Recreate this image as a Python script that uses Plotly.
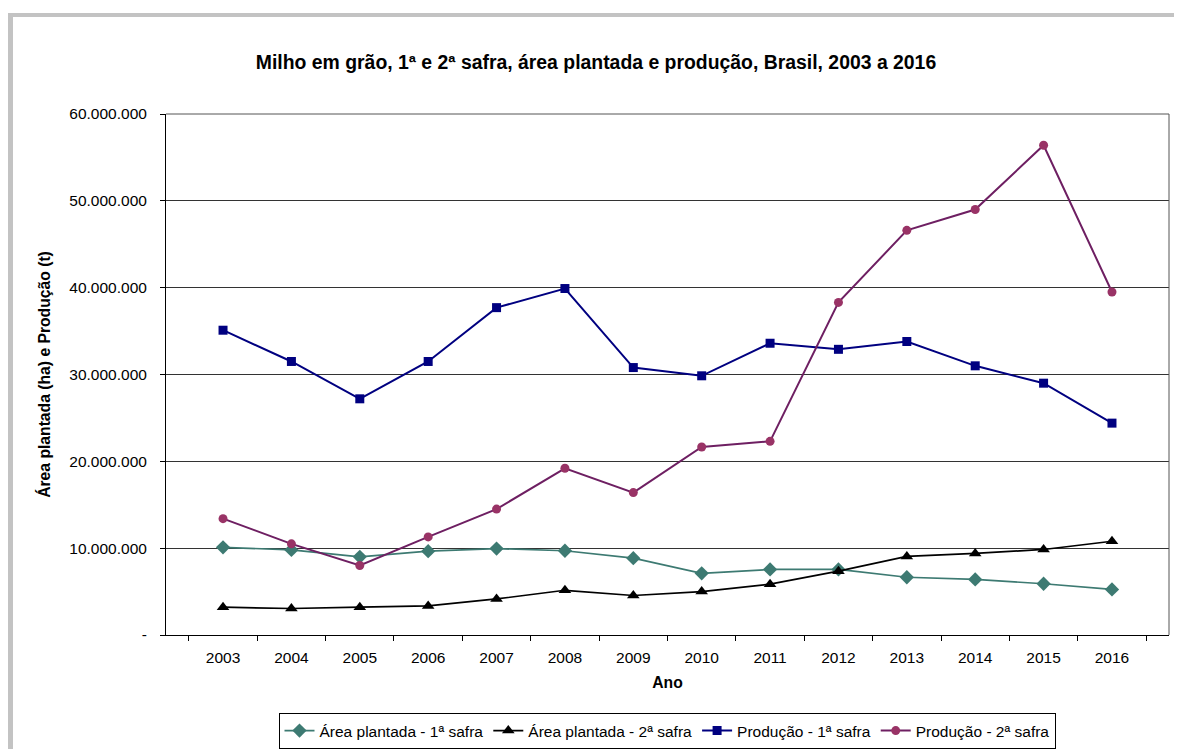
import plotly.graph_objects as go

anos = ["2003", "2004", "2005", "2006", "2007", "2008", "2009",
        "2010", "2011", "2012", "2013", "2014", "2015", "2016"]

area_1_safra = [10100000, 9800000, 9000000, 9650000, 9950000, 9700000, 8850000,
                7100000, 7550000, 7550000, 6650000, 6400000, 5900000, 5250000]
area_2_safra = [3200000, 3050000, 3200000, 3350000, 4150000, 5150000, 4550000,
                5000000, 5850000, 7350000, 9050000, 9400000, 9850000, 10800000]
producao_1_safra = [35100000, 31500000, 27200000, 31500000, 37700000, 39900000, 30800000,
                    29850000, 33600000, 32900000, 33800000, 31000000, 29000000, 24400000]
producao_2_safra = [13400000, 10500000, 8000000, 11300000, 14500000, 19200000, 16400000,
                    21650000, 22300000, 38300000, 46600000, 49000000, 56400000, 39500000]

y_tickvals = [0, 10000000, 20000000, 30000000, 40000000, 50000000, 60000000]
y_ticktext = ["-", "10.000.000", "20.000.000", "30.000.000", "40.000.000",
              "50.000.000", "60.000.000"]

FONT = "Liberation Sans, Arial, sans-serif"
OFF = 8  # page body margin
W, H = 1182 - OFF, 749 - OFF
# plot area in screen pixels: x 166..1169, y 114..635
L, R, T, B = 166 - OFF, 1182 - 1169, 114 - OFF, 749 - 635

def px_x(p):
    return (p - OFF - L) / (W - L - R)

def px_y(p):
    return (H - B - (p - OFF)) / (H - T - B)

fig = go.Figure()
fig.add_trace(go.Scatter(
    x=anos, y=area_1_safra, name="Área plantada - 1ª safra", mode="lines+markers",
    line=dict(color="#3d7a72", width=1.7),
    marker=dict(symbol="diamond", size=11, color="#3d7a72")))
fig.add_trace(go.Scatter(
    x=anos, y=area_2_safra, name="Área plantada - 2ª safra", mode="lines+markers",
    line=dict(color="#000000", width=1.7),
    marker=dict(symbol="triangle-up", size=11, color="#000000")))
fig.add_trace(go.Scatter(
    x=anos, y=producao_1_safra, name="Produção - 1ª safra", mode="lines+markers",
    line=dict(color="#000080", width=2),
    marker=dict(symbol="square", size=9, color="#000080")))
fig.add_trace(go.Scatter(
    x=anos, y=producao_2_safra, name="Produção - 2ª safra", mode="lines+markers",
    line=dict(color="#6e1f62", width=2),
    marker=dict(symbol="circle", size=9, color="#993366")))

shapes = [
    dict(type="rect", xref="paper", yref="paper", x0=px_x(8), x1=px_x(1190),
         y0=px_y(17), y1=px_y(13), fillcolor="#c3c3c3", line=dict(width=0), layer="below"),
    dict(type="rect", xref="paper", yref="paper", x0=px_x(8), x1=px_x(13),
         y0=px_y(760), y1=px_y(13), fillcolor="#c3c3c3", line=dict(width=0), layer="below"),
    dict(type="line", xref="paper", yref="paper", x0=0, x1=1, y0=1, y1=1,
         line=dict(color="#555555", width=1)),
    dict(type="line", xref="paper", yref="paper", x0=1, x1=1, y0=0, y1=1,
         line=dict(color="#555555", width=1)),
]

fig.update_layout(
    width=W, height=H,
    margin=dict(l=L, r=R, t=T, b=B, autoexpand=False),
    paper_bgcolor="white", plot_bgcolor="white",
    font=dict(family=FONT, size=15.5, color="#000000"),
    title=dict(text="<b>Milho em grão, 1ª e 2ª safra, área plantada e produção, Brasil, 2003 a 2016</b>",
               x=(596 - OFF) / W, xanchor="center", xref="container",
               y=1 - (62 - OFF) / H, yanchor="middle", yref="container",
               font=dict(family=FONT, size=19.4, color="#000000")),
    xaxis=dict(type="category", tickson="boundaries", ticks="outside", ticklen=5,
               tickcolor="#000000", showline=True, linecolor="#000000", linewidth=1,
               showgrid=False, tickfont=dict(size=15.5), ticklabelstandoff=8,
               automargin=False,
               title=dict(text="<b>Ano</b>", font=dict(size=15.7), standoff=12)),
    yaxis=dict(range=[0, 60000000], tickvals=y_tickvals, ticktext=y_ticktext,
               ticks="outside", ticklen=5, tickcolor="#000000",
               showline=True, linecolor="#000000", linewidth=1,
               showgrid=True, gridcolor="#333333", gridwidth=1, zeroline=False,
               tickfont=dict(size=15.5), ticklabelstandoff=10, automargin=False,
               title=dict(text="<b>Área plantada (ha) e Produção (t)</b>", font=dict(size=15.7),
                          standoff=14)),
    legend=dict(orientation="h", x=px_x(667), xanchor="center", y=px_y(713), yanchor="top",
                bordercolor="#000000", borderwidth=1, bgcolor="white",
                font=dict(size=15.5), itemwidth=30, tracegroupgap=0),
    shapes=shapes,
    showlegend=True,
)

fig.write_html("out.html")
